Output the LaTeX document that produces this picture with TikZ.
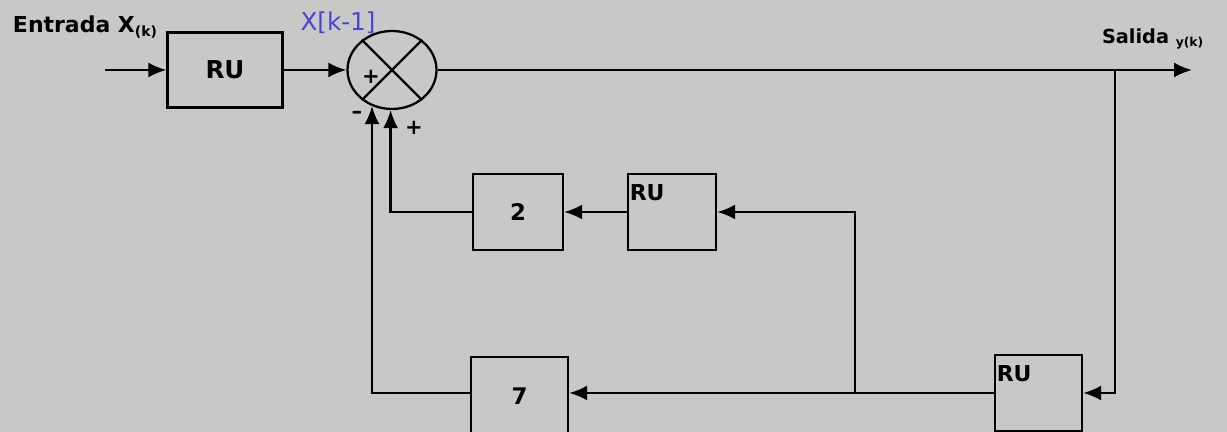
\documentclass[tikz,border=0pt]{standalone}
\usepackage{fontspec}
\setmainfont{DejaVu Sans}
\usepackage{xcolor}
\usetikzlibrary{calc, positioning, arrows.meta, shapes.geometric}

\definecolor{papel}{RGB}{200,200,198}
\definecolor{tinta}{RGB}{70,70,215}

\begin{document}
\begin{tikzpicture}[>={Latex[length=3.6mm,width=3mm]}, line width=1.3pt,
    bloque/.style={draw, rectangle, minimum width=1.78cm, minimum height=1.52cm, font=\bfseries\fontsize{13}{14}\selectfont},
    bloqueru/.style={draw, rectangle, minimum width=1.76cm, minimum height=1.52cm},
    etiqru/.style={anchor=north west, font=\bfseries\fontsize{12.5}{13}\selectfont, inner sep=1pt, yshift=-0.18cm},
    signo/.style={font=\bfseries\large, inner sep=0pt}]

    % =================================================================
    % 1. FONDO Y MARCO
    % =================================================================
    \fill[papel] (0,0) rectangle (24.54,8.64);
    \useasboundingbox (0,0) rectangle (24.54,8.64);

    % =================================================================
    % 2. BLOQUES Y SUMADOR
    % =================================================================
    \node[bloque, minimum width=2.3cm, minimum height=1.5cm, font=\bfseries\fontsize{14}{15}\selectfont] (RU1) at (4.5,7.24) {RU};
    \node[draw, ellipse, minimum width=1.78cm, minimum height=1.56cm, inner sep=0pt] (sum) at (7.84,7.24) {};
    \draw (sum.45) -- (sum.225);
    \draw (sum.135) -- (sum.315);

    \node[bloqueru] (RU2) at (13.44,4.4) {};
    \node[etiqru] (tRU2) at (RU2.north west) {RU};
    \node[bloque, minimum width=1.8cm] (dos) at (10.36,4.4) {2};

    \node[bloqueru, minimum width=1.74cm] (RU3) at (20.77,0.78) {};
    \node[etiqru] (tRU3) at (RU3.north west) {RU};
    \node[bloque, minimum width=1.94cm, minimum height=1.56cm] (siete) at (10.39,0.72) {7};

    % =================================================================
    % 3. TEXTOS
    % =================================================================
    \node[anchor=west, font=\bfseries\fontsize{12.5}{13}\selectfont] (entrada) at (0.12,8.1) {Entrada X\raisebox{-0.3ex}{\footnotesize(k)}};
    \node[anchor=west, font=\bfseries\fontsize{11}{12}\selectfont] (salida) at (21.9,7.86) {Salida \raisebox{-0.3ex}{\scriptsize y(k)}};
    \node[text=tinta, font=\fontsize{14}{15}\selectfont] (xk) at (6.76,8.18) {X[k-1]};

    \node[signo] (mas1) at (7.42,7.1) {+};
    \node[signo] (menos) at (7.14,6.34) {--};
    \node[signo] (mas2) at (8.28,6.08) {+};

    % =================================================================
    % 4. CONEXIONES
    % =================================================================
    \coordinate (ent) at (2.1,7.24);
    \coordinate (sal) at (23.84,7.24);
    \coordinate (tap) at (22.3,7.24);
    \coordinate (rama) at (17.1,0.78);

    \draw[->] (ent) -- (RU1.west);
    \draw[->] (RU1.east) -- (sum.west);
    \draw[->] (sum.east) -- (sal);
    \draw[->] (tap) |- (RU3.east);
    \draw[->] (RU3.west) -- (RU3.west -| siete.east);
    \draw[->] (rama) |- (RU2.east);
    \draw[->] (RU2.west) -- (dos.east);
    \draw[->] (dos.west) -| (sum.268);
    \draw[->] (siete.west |- RU3.west) -| (sum.241);

\end{tikzpicture}
\end{document}
